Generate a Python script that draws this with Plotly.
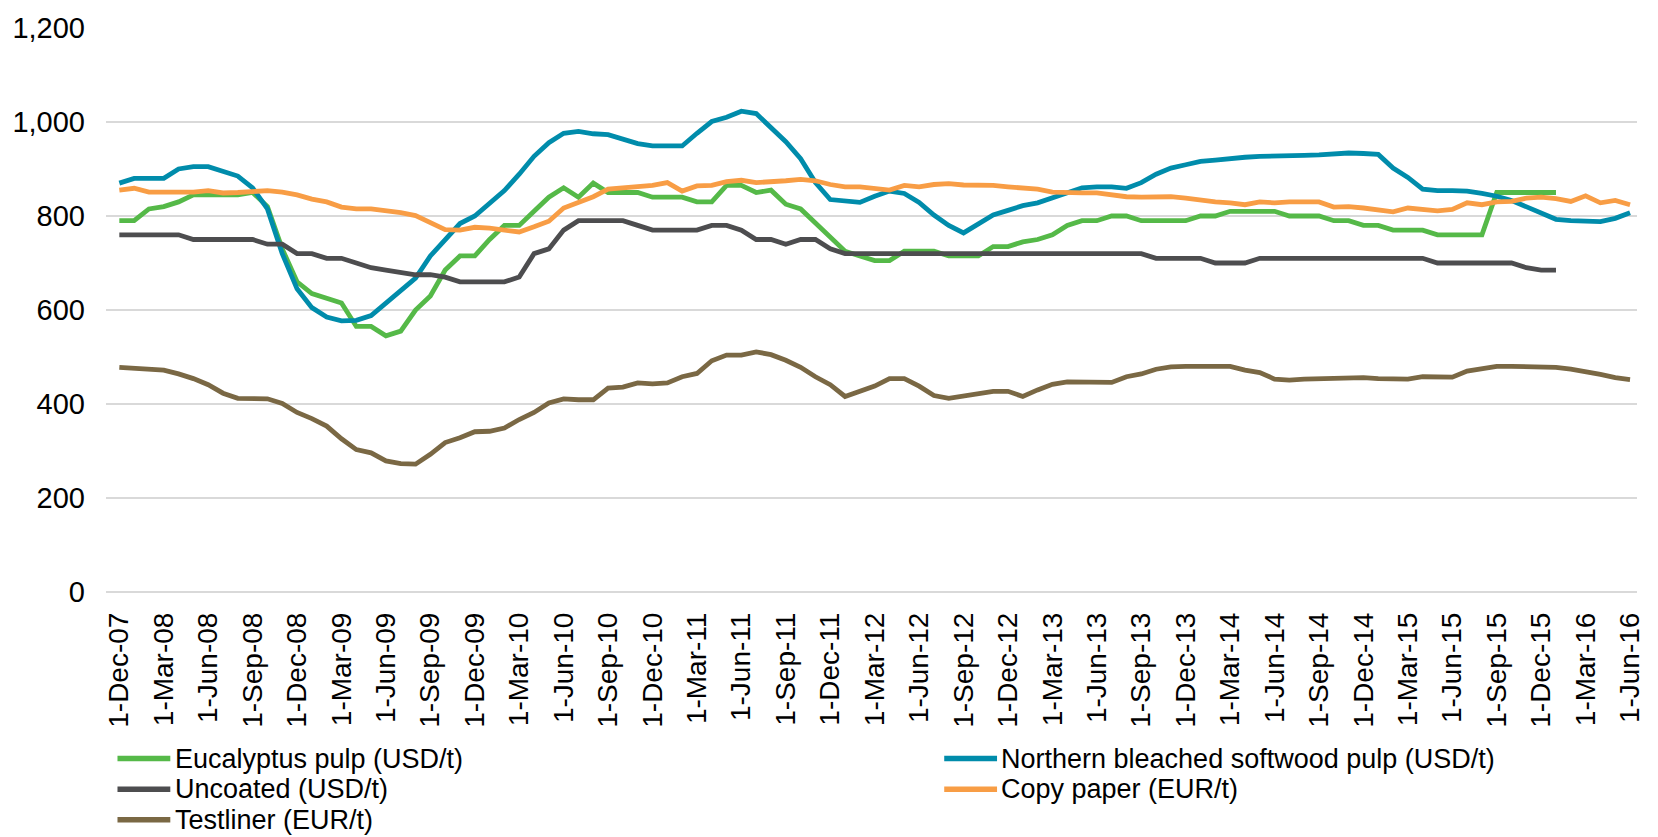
import pandas as pd
import plotly.graph_objects as go

# Monthly observations, 1-Dec-07 through 1-Jun-16
months = [f"1-{d:%b-%y}" for d in pd.date_range("2007-12-01", "2016-06-01", freq="MS")]
tick_labels = months[::3]

eucalyptus = [
    790, 790, 815, 820, 830, 845, 845, 845, 845, 850, 820, 730,
    660, 635, 625, 615, 565, 565, 545, 555, 600, 630, 685, 715,
    715, 750, 780, 780, 810, 840, 860, 840, 870, 850, 850, 850,
    840, 840, 840, 830, 830, 865, 865, 850, 855, 825, 815, 785,
    755, 725, 715, 705, 705, 725, 725, 725, 715, 715, 715, 735,
    735, 745, 750, 760, 780, 790, 790, 800, 800, 790, 790, 790,
    790, 800, 800, 810, 810, 810, 810, 800, 800, 800, 790, 790,
    780, 780, 770, 770, 770, 760, 760, 760, 760, 850, 850, 850,
    850, 850, None, None, None, None, None,
]

nbsk = [
    870, 880, 880, 880, 900, 905, 905, 895, 885, 860, 815, 720,
    645, 605, 585, 577, 578, 588, 615, 643, 668, 715, 748, 784,
    800, 826, 854, 889, 927, 956, 976, 980, 975, 973, 964, 954,
    949, 949, 949, 976, 1001, 1010, 1023, 1018, 987, 958, 922, 871,
    835, 831, 829, 842, 853, 848, 829, 802, 780, 764, 784, 802,
    812, 822, 828, 838, 849, 860, 862, 862, 859, 871, 889, 902,
    909, 916, 919, 923, 925, 927, 927, 928, 929, 930, 933, 934,
    933, 931, 902, 882, 857, 854, 854, 853, 848, 842, 833, 820,
    806, 793, 790, 789, 788, 795, 807,
]

uncoated = [
    760, 760, 760, 760, 760, 750, 750, 750, 750, 750, 740, 740,
    720, 720, 710, 710, 700, 690, 685, 680, 675, 675, 670, 660,
    660, 660, 660, 670, 720, 730, 770, 790, 790, 790, 790, 780,
    770, 770, 770, 770, 780, 780, 770, 750, 750, 740, 750, 750,
    730, 720, 720, 720, 720, 720, 720, 720, 720, 720, 720, 720,
    720, 720, 720, 720, 720, 720, 720, 720, 720, 720, 710, 710,
    710, 710, 700, 700, 700, 710, 710, 710, 710, 710, 710, 710,
    710, 710, 710, 710, 710, 700, 700, 700, 700, 700, 700, 690,
    685, 685, None, None, None, None, None,
]

copy_paper = [
    855, 859, 851, 851, 852, 851, 854, 849, 850, 851, 854, 851,
    845, 836, 830, 819, 815, 815, 812, 807, 801, 786, 771, 770,
    776, 774, 771, 766, 777, 789, 817, 828, 841, 857, 860, 864,
    865, 871, 853, 864, 865, 873, 876, 871, 872, 875, 878, 875,
    867, 862, 862, 858, 855, 865, 862, 867, 869, 866, 866, 865,
    862, 860, 857, 851, 849, 849, 849, 844, 841, 840, 841, 841,
    838, 833, 830, 828, 824, 830, 828, 830, 831, 830, 819, 820,
    817, 813, 809, 817, 814, 811, 814, 828, 824, 830, 831, 838,
    840, 837, 831, 843, 828, 833, 824,
]

testliner = [
    478, 476, 475, 472, 464, 454, 441, 423, 412, 411, 411, 401,
    382, 369, 353, 326, 303, 296, 279, 273, 272, 293, 318, 328,
    341, 342, 349, 367, 382, 402, 411, 409, 409, 434, 436, 445,
    443, 445, 458, 465, 492, 504, 504, 511, 505, 493, 478, 458,
    441, 416, 428, 438, 454, 454, 438, 418, 412, 417, 422, 427,
    427, 416, 430, 442, 447, 446, 446, 446, 458, 464, 474, 479,
    480, 480, 480, 480, 472, 467, 453, 451, 453, 454, 456, 456,
    456, 454, 454, 453, 458, 457, 457, 470, 476, 480, 480, 480,
    478, 478, 474, 469, 463, 456, 452,
]

series = [
    ("Eucalyptus pulp (USD/t)", eucalyptus, "#55B948"),
    ("Northern bleached softwood pulp (USD/t)", nbsk, "#008CAB"),
    ("Uncoated (USD/t)", uncoated, "#4D4D4F"),
    ("Copy paper (EUR/t)", copy_paper, "#F89D45"),
    ("Testliner (EUR/t)", testliner, "#7A6844"),
]

FONT = "Arial, Liberation Sans, sans-serif"
FS_LEGEND = 27
FS_Y = 29
FS_X = 28

fig = go.Figure()
for name, values, color in series:
    fig.add_trace(go.Scatter(
        x=months, y=values, name=name, mode="lines",
        line=dict(color=color, width=4.8),
        connectgaps=False, showlegend=False,
    ))

# Legend drawn below the plot: two columns, entries in trace order
legend_slots = [
    (0.0075, -0.2953), (0.5475, -0.2953),
    (0.0075, -0.3496), (0.5475, -0.3496),
    (0.0075, -0.4040),
]
swatch_len = 0.0345
for (name, _, color), (lx, ly) in zip(series, legend_slots):
    fig.add_shape(type="line", xref="paper", yref="paper",
                  x0=lx, x1=lx + swatch_len, y0=ly, y1=ly,
                  line=dict(color=color, width=5.5))
    fig.add_annotation(xref="paper", yref="paper", x=lx + swatch_len + 0.0015, y=ly,
                       text=name, showarrow=False, xanchor="left", yanchor="middle",
                       font=dict(family=FONT, size=FS_LEGEND, color="#000000"))

fig.update_layout(
    width=1658, height=837,
    margin=dict(l=103, r=21, t=22, b=245),
    paper_bgcolor="white", plot_bgcolor="white",
    font=dict(family=FONT, size=FS_Y, color="#000000"),
    showlegend=False,
)
fig.update_xaxes(
    type="category", categoryorder="array", categoryarray=months,
    range=[-0.9, len(months) - 0.53],
    tickmode="array", tickvals=tick_labels, ticktext=tick_labels,
    tickangle=-90, showgrid=False, zeroline=False, showline=False,
    ticks="", ticklabelstandoff=14,
    tickfont=dict(family=FONT, size=FS_X, color="#000000"),
)
fig.update_yaxes(
    range=[0, 1200], dtick=200, tickformat=",",
    showgrid=True, gridcolor="#D9D9D9", gridwidth=1.6,
    zeroline=True, zerolinecolor="#D9D9D9", zerolinewidth=1.6,
    showline=False, ticks="", ticklabelstandoff=20,
    tickfont=dict(family=FONT, size=FS_Y, color="#000000"),
)

fig.write_html("out.html")
